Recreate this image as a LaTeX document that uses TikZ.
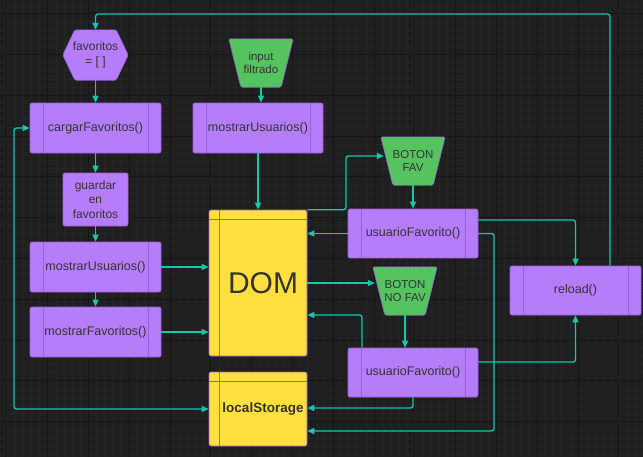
\documentclass[tikz,border=0pt]{standalone}
\usepackage{fontspec}
\setmainfont{Liberation Sans}
\usetikzlibrary{arrows.meta,backgrounds,calc}
\definecolor{bgc}{HTML}{1F1F1F}
\definecolor{gmin}{HTML}{252525}
\definecolor{gmaj}{HTML}{161616}
\definecolor{pfill}{HTML}{B67DFA}
\definecolor{pline}{HTML}{9A5FD8}
\definecolor{gfill}{HTML}{55C35F}
\definecolor{yfill}{HTML}{FFE03F}
\definecolor{tealc}{HTML}{17C6B1}
\definecolor{txt}{HTML}{333333}
\tikzset{
  fn/.style={rectangle, rounded corners=2pt, fill=pfill, draw=pline, line width=0.6pt,
    minimum width=131pt, minimum height=50pt, inner sep=0pt, text=txt,
    font=\fontsize{12.5}{15}\selectfont,
    path picture={\draw[pline,line width=0.6pt]
      ([xshift=13pt]path picture bounding box.north west) -- ([xshift=13pt]path picture bounding box.south west)
      ([xshift=-13pt]path picture bounding box.north east) -- ([xshift=-13pt]path picture bounding box.south east);}},
  dbbox/.style={rectangle, rounded corners=2pt, fill=yfill, draw=pline, line width=0.6pt,
    minimum width=98pt, inner sep=0pt, text=txt,
    path picture={\draw[pline,line width=0.6pt]
      ([xshift=10pt]path picture bounding box.north west) -- ([xshift=10pt]path picture bounding box.south west)
      ([yshift=-9.5pt]path picture bounding box.north west) -- ([yshift=-9.5pt]path picture bounding box.north east);}},
  plainbox/.style={rectangle, rounded corners=2pt, fill=pfill, draw=pline, line width=0.6pt,
    inner sep=0pt, text=txt, align=center, font=\fontsize{12}{14.3}\selectfont},
  iobox/.style={rectangle, minimum width=64pt, minimum height=48pt, inner sep=0pt, text=txt,
    align=center, font=\fontsize{11.5}{13.5}\selectfont},
  hexbox/.style={rectangle, minimum width=65pt, minimum height=50pt, inner sep=0pt, text=txt,
    align=center, font=\fontsize{12}{14.3}\selectfont},
  shapefill/.style={fill=#1, draw=pline, line width=0.6pt, rounded corners=1.5pt},
  arr/.style={tealc, line width=1.3pt, rounded corners=2.5pt, -{Triangle[length=7pt,width=6pt]}},
  arrtwo/.style={tealc, line width=1.3pt, rounded corners=2.5pt, {Triangle[length=7pt,width=6pt]}-{Triangle[length=7pt,width=6pt]}}
}
\begin{document}
\begin{tikzpicture}[x=1pt,y=-1pt]
\useasboundingbox (0,0) rectangle (643,456);
% nodes
\node[hexbox] (hex) at (95.5,55) {favoritos\\= [ ]};
\node[iobox] (inp) at (261,63) {input\\filtrado};
\node[fn] (carg) at (95.5,128) {cargarFavoritos()};
\node[fn, minimum width=130pt] (mostU1) at (258,128) {mostrarUsuarios()};
\node[plainbox, minimum width=65pt, minimum height=53pt] (guard) at (95.5,199.5) {guardar\\en\\favoritos};
\node[fn] (mostU2) at (95.5,267) {mostrarUsuarios()};
\node[fn] (mostF) at (95.5,332) {mostrarFavoritos()};
\node[dbbox, minimum height=146pt, font=\fontsize{30}{34}\selectfont] (dom) at (258,283) {\hspace*{10pt}DOM};
\node[dbbox, minimum height=74pt, font=\bfseries\fontsize{13.5}{16}\selectfont] (ls) at (258,409) {\hspace*{10pt}\raisebox{-4pt}{localStorage}};
\node[iobox] (bfav) at (413,161) {BOTON\\FAV};
\node[fn, minimum width=130pt, minimum height=49pt] (uf1) at (413,233.5) {usuarioFavorito()};
\node[iobox] (bnofav) at (405,291) {BOTON\\NO FAV};
\node[fn, minimum height=49pt] (reload) at (575.5,290.5) {reload()};
\node[fn, minimum width=130pt, minimum height=49pt] (uf2) at (413,372.5) {usuarioFavorito()};
% background, grid and drawn shapes
\begin{pgfonlayer}{background}
\fill[bgc] (-5,-5) rectangle (648,461);
\foreach \i in {-1,...,79} {\draw[gmin,line width=0.5pt] ({6.8+8.16*\i},-5) -- ++(0,466);}
\foreach \i in {-2,...,56} {\draw[gmin,line width=0.5pt] (-5,{13.5+8.16*\i}) -- ++(653,0);}
\foreach \i in {0,...,16} {\draw[gmaj,line width=0.8pt] ({6.8+40.8*\i},-5) -- ++(0,466);}
\foreach \i in {-1,...,11} {\draw[gmaj,line width=0.8pt] (-5,{13.5+40.8*\i}) -- ++(653,0);}
\path[shapefill=pfill] (hex.west) -- ($(hex.north west)+(12,0)$) -- ($(hex.north east)+(-12,0)$) -- (hex.east)
  -- ($(hex.south east)+(-12,0)$) -- ($(hex.south west)+(12,0)$) -- cycle;
\foreach \n in {inp,bfav,bnofav} {
  \path[shapefill=gfill] (\n.north west) -- (\n.north east) -- ($(\n.south east)+(-12,0)$) -- ($(\n.south west)+(12,0)$) -- cycle;
}
\end{pgfonlayer}
% connectors
\coordinate (tR) at (610,14);
\coordinate (tL) at (95.5,14);
\draw[arr] (reload.north -| tR) -- (tR) -- (tL) -- (hex.north);
\draw[arr] (hex.south) -- (carg.north);
\draw[arr] (inp.south) -- (inp.south |- mostU1.north);
\draw[arr] (carg.south) -- (guard.north);
\draw[arr] (guard.south) -- (mostU2.north);
\draw[arr] (mostU2.south) -- (mostF.north);
\draw[arr] (mostU1.south) -- (dom.north);
\draw[arr] (mostU2.east) -- (mostU2.east -| dom.west);
\draw[arr] (mostF.east) -- (mostF.east -| dom.west);
\coordinate (lx) at (14,0);
\draw[arrtwo] (ls.west) -- (ls.west -| lx) -- (carg.west -| lx) -- (carg.west);
\coordinate (fA) at (346,156);
\draw[arr] (dom.north east) -- (dom.north east -| fA) -- (fA) -- ($(fA -| bfav.west)+(3,0)$);
\draw[arr] (bfav.south) -- (uf1.north);
\draw[arr] (uf1.west) -- (uf1.west -| dom.east);
\coordinate (rA) at (0,220);
\draw[arr] (uf1.east |- rA) -| (reload.north);
\coordinate (bB) at (494,431);
\draw[arr] (uf1.east) -- (uf1.east -| bB) -- (bB) -- (bB -| ls.east);
\coordinate (nf) at (0,283);
\draw[arr] (dom.east |- nf) -- ($(nf -| bnofav.west)+(2,0)$);
\draw[arr] (bnofav.south) -- (bnofav.south |- uf2.north);
\coordinate (cC) at (362,315);
\draw[arr] (uf2.north -| cC) -- (cC) -- (cC -| dom.east);
\coordinate (cD) at (413,408);
\draw[arr] (uf2.south) -- (cD) -- (cD -| ls.east);
\coordinate (cE) at (0,362);
\draw[arr] (uf2.east |- cE) -| (reload.south);
\end{tikzpicture}
\end{document}
